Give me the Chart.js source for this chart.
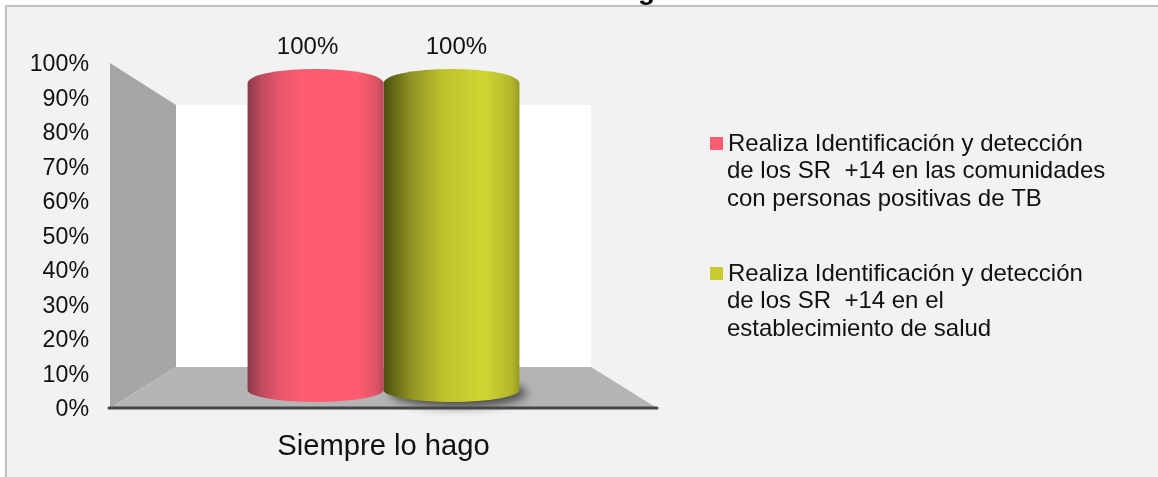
<!DOCTYPE html>
<html>
<head>
<meta charset="utf-8">
<script src="https://cdn.jsdelivr.net/npm/chart.js@4"></script>
<style>
  html, body { margin: 0; padding: 0; background: #fff; }
  #wrap { position: relative; width: 1158px; height: 477px; overflow: hidden; }
  #panel { position: absolute; left: 5px; top: 5px; right: 0; bottom: 0; background: #f2f2f2;
           border-left: 2px solid #c0c0c0; border-top: 2px solid #c0c0c0; }
  #myChart { position: absolute; left: 0; top: 0; }
</style>
</head>
<body>
<div id="wrap">
  <div id="panel"></div>
  <canvas id="myChart" width="1158" height="477"></canvas>
</div>
<script>
const categories = ['Siempre lo hago'];
const seriesNames = [
    ['Realiza Identificación y detección', 'de los SR  +14 en las comunidades', 'con personas positivas de TB'],
    ['Realiza Identificación y detección', 'de los SR  +14 en el', 'establecimiento de salud']
];
const comunidades = [100];
const establecimiento = [100];
const yTicks = [0, 10, 20, 30, 40, 50, 60, 70, 80, 90, 100];
const seriesColors = ['#fe5c70', '#c8cb2f'];

const fontName = '"Liberation Sans", Arial, sans-serif';

// gradient stops for the cylinder sides
const shades = [
    [[0, '#8c3a48'], [0.1, '#c04a5e'], [0.25, '#ea586c'], [0.4, '#fe5c70'], [0.82, '#fe5c70'], [0.95, '#dc5466'], [1, '#b84a5a']],
    [[0, '#4a4e10'], [0.2, '#8f9222'], [0.45, '#c0c42c'], [0.75, '#d0d432'], [0.95, '#b0b42a'], [1, '#969a22']]
];

function cylinder(ctx, bar, i) {
    const left = bar.x - bar.width / 2;
    const rx = bar.width / 2;
    const ry = 14;
    const topY = bar.y + 20;
    const botY = bar.base - 18;

    ctx.save();
    if (i === 1) {
        ctx.shadowColor = 'rgba(40,40,40,0.75)';
        ctx.shadowBlur = 10;
        ctx.shadowOffsetX = 7;
        ctx.shadowOffsetY = 5;
        ctx.fillStyle = '#555';
        ctx.beginPath();
        ctx.ellipse(bar.x, botY - 2, rx, ry, 0, 0, Math.PI * 2);
        ctx.fill();
    }
    ctx.restore();

    const g = ctx.createLinearGradient(left, 0, left + bar.width, 0);
    shades[i].forEach(s => g.addColorStop(s[0], s[1]));
    ctx.fillStyle = g;
    ctx.beginPath();
    ctx.moveTo(left, topY);
    ctx.ellipse(bar.x, topY, rx, ry, 0, Math.PI, Math.PI * 2);
    ctx.lineTo(left + bar.width, botY);
    ctx.ellipse(bar.x, botY, rx, ry - 2, 0, 0, Math.PI);
    ctx.closePath();
    ctx.fill();
}

const depth = { x: 66, top: 42, bottom: 41 };

const scenePlugin = {
    id: 'scene',
    beforeDatasetsDraw(chart) {
        const ctx = chart.ctx;
        const a = chart.chartArea;
        ctx.save();
        // back wall
        ctx.fillStyle = '#ffffff';
        ctx.fillRect(a.left + depth.x, a.top + depth.top, a.right - a.left - depth.x * 2, a.bottom - a.top - depth.top - depth.bottom);
        // side wall
        ctx.fillStyle = '#a6a6a6';
        ctx.beginPath();
        ctx.moveTo(a.left, a.top);
        ctx.lineTo(a.left + depth.x, a.top + depth.top);
        ctx.lineTo(a.left + depth.x, a.bottom - depth.bottom);
        ctx.lineTo(a.left, a.bottom);
        ctx.closePath();
        ctx.fill();
        // floor
        ctx.fillStyle = '#b5b5b5';
        ctx.beginPath();
        ctx.moveTo(a.left + depth.x, a.bottom - depth.bottom);
        ctx.lineTo(a.right - depth.x, a.bottom - depth.bottom);
        ctx.lineTo(a.right, a.bottom);
        ctx.lineTo(a.left, a.bottom);
        ctx.closePath();
        ctx.fill();
        ctx.restore();
    },
    beforeDatasetDraw(chart, args) {
        const bar = chart.getDatasetMeta(args.index).data[0];
        cylinder(chart.ctx, bar, args.index);
        return false;
    },
    afterDatasetsDraw(chart) {
        const ctx = chart.ctx;
        const a = chart.chartArea;
        ctx.save();
        // floor front edge
        ctx.strokeStyle = '#454545';
        ctx.lineWidth = 3;
        ctx.lineCap = 'round';
        ctx.beginPath();
        ctx.moveTo(a.left - 1, a.bottom);
        ctx.lineTo(a.right, a.bottom);
        ctx.stroke();

        // value labels
        ctx.fillStyle = '#111';
        ctx.font = '24px ' + fontName;
        ctx.textAlign = 'center';
        ctx.textBaseline = 'middle';
        chart.data.datasets.forEach((ds, i) => {
            const bar = chart.getDatasetMeta(i).data[0];
            const labelX = bar.x + (i === 0 ? -8 : 5);
            ctx.fillText(ds.data[0] + '%', labelX, bar.y - 16);
        });

        // legend
        const legendTop = [143, 273];
        ctx.textAlign = 'left';
        chart.data.datasets.forEach((ds, i) => {
            ctx.fillStyle = ds.backgroundColor;
            ctx.fillRect(710, legendTop[i] - 6, 13, 13);
            ctx.fillStyle = '#111';
            ds.label.forEach((line, n) => {
                ctx.fillText(line, n === 0 ? 728 : 727, legendTop[i] + 1 + n * 27.6);
            });
        });

        // clipped chart title, only the descender is left in the picture
        ctx.font = 'bold 28px ' + fontName;
        ctx.fillStyle = '#000';
        ctx.textBaseline = 'alphabetic';
        ctx.fillText('g', 638, -1);
        ctx.restore();
    }
};

const myChart = new Chart(document.getElementById('myChart'), {
    type: 'bar',
    data: {
        labels: categories,
        datasets: [
            { label: seriesNames[0], data: comunidades, backgroundColor: seriesColors[0] },
            { label: seriesNames[1], data: establecimiento, backgroundColor: seriesColors[1] }
        ]
    },
    options: {
        responsive: false,
        animation: false,
        layout: { padding: { top: 63, right: 501, left: 0, bottom: 0 } },
        plugins: { legend: { display: false }, title: { display: false }, tooltip: { enabled: false } },
        datasets: { bar: { barPercentage: 1, categoryPercentage: 0.497 } },
        scales: {
            x: {
                grid: { display: false },
                border: { display: false },
                ticks: { color: '#111', font: { family: fontName, size: 29.2 }, padding: 13 },
                afterFit(scale) { scale.height = 69; }
            },
            y: {
                min: 0,
                max: 100,
                grid: { display: false, drawTicks: false },
                border: { display: false },
                afterBuildTicks(scale) { scale.ticks = yTicks.map(v => ({ value: v })); },
                ticks: {
                    color: '#111',
                    font: { family: fontName, size: 23.2 },
                    padding: 21,
                    labelOffset: 2,
                    callback: v => v + '%'
                },
                afterFit(scale) { scale.width = 110; }
            }
        }
    },
    plugins: [scenePlugin]
});
</script>
</body>
</html>
